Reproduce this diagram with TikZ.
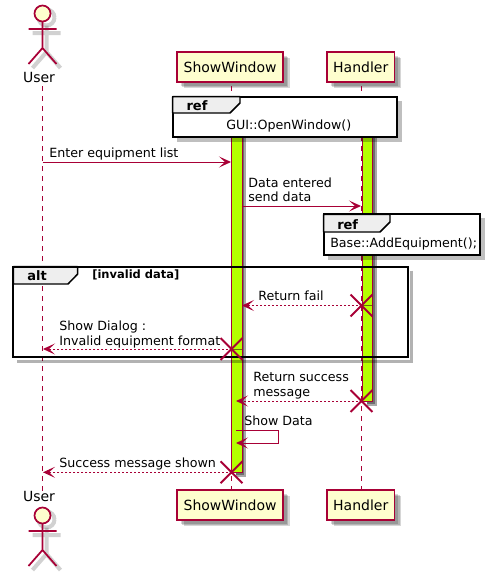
\documentclass[tikz,border=0pt]{standalone}
\usepackage{fontspec}
\setmainfont{DejaVu Sans}
\usetikzlibrary{arrows.meta,shapes.misc}
\definecolor{pcrim}{HTML}{A80036}
\definecolor{pyel}{HTML}{FEFECE}
\definecolor{pgreen}{HTML}{B4FF00}
\definecolor{pfr}{HTML}{EEEEEE}
\definecolor{shA}{HTML}{6E6E6E}
\definecolor{shB}{HTML}{A8A8A8}
\tikzset{
  x=0.75pt,y=-0.75pt,
  txt/.style={inner sep=0pt,font=\fontsize{9.5}{11.4}\selectfont,align=left,text=black},
  headbox/.style={draw=pcrim,fill=pyel,line width=1.2pt,inner sep=0pt,minimum height=22.5pt,
     font=\fontsize{10.5}{12}\selectfont,
     preaction={fill=black,opacity=.16,transform canvas={shift={(5pt,-5pt)}}},
     preaction={fill=black,opacity=.16,transform canvas={shift={(3.8pt,-3.8pt)}}},
     preaction={fill=black,opacity=.16,transform canvas={shift={(2.8pt,-2.8pt)}}}},
  lifeline/.style={draw=pcrim,line width=.75pt,dash pattern=on 3.75pt off 3.75pt},
  actbar/.style={fill=pgreen,inner sep=0pt,minimum width=7.5pt,anchor=north west},
  msg/.style={draw=pcrim,line width=.75pt,-{Stealth[length=9pt,width=8.25pt,inset=4.5pt]}},
  ret/.style={msg,dash pattern=on 1.5pt off 1.5pt},
  kill/.style={cross out,draw=pcrim,line width=1.4pt,inner sep=0pt,minimum size=15pt},
  frameline/.style={draw=black,line width=1.5pt},
  frameshadow/.style={draw=black,line width=2.4pt,opacity=.3},
  tabfill/.style={fill=pfr,draw=black,line width=1.1pt,line join=round},
  boldlbl/.style={inner sep=0pt,font=\fontsize{9.75}{11.4}\bfseries\selectfont},
  actorline/.style={draw=pcrim,line width=1.3pt},
  actorshadow/.style={draw=black,opacity=.18,line width=3pt,shift={(4,4)}},
}
\newcommand{\actorfig}[1]{%
  \begin{scope}[shift={(42.5,#1)}]
    \draw[actorshadow] (8,0) arc[start angle=0,end angle=360,radius=8];
    \draw[actorshadow] (0,8)--(0,34.5) (-14,15.5)--(14,15.5) (-14,50.5)--(0,34.5)--(14,50.5);
    \draw[actorline,fill=pyel] (0,0) circle[radius=8];
    \draw[actorline] (0,8)--(0,34.5) (-14,15.5)--(14,15.5) (-14,50.5)--(0,34.5)--(14,50.5);
  \end{scope}}
\begin{document}
\begin{tikzpicture}
\useasboundingbox (0,0) rectangle (489,576);
\coordinate (utop) at (42.5,86);
\coordinate (ubot) at (42.5,491);
\node[headbox,anchor=north west,minimum width=79.5pt] (swtop) at (176.3,51) {ShowWindow};
\node[headbox,anchor=north west,minimum width=50.5pt] (hdtop) at (326.3,51) {Handler};
\node[headbox,anchor=north west,minimum width=79.5pt] (swbot) at (176.3,489) {ShowWindow};
\node[headbox,anchor=north west,minimum width=50.5pt] (hdbot) at (326.3,489) {Handler};
\coordinate (swa) at (231.5,86);
\coordinate (swb) at (231.5,489);
\coordinate (hda) at (361.5,86);
\coordinate (hdb) at (361.5,489);
\draw[lifeline] (utop)--(ubot);
\draw[lifeline] (swa)--(swb);
\draw[lifeline] (hda)--(hdb);
\actorfig{13.5}
\actorfig{515.5}
\node[txt,anchor=base,font=\fontsize{10.5}{12}\selectfont] (userT) at (39,82.7) {User};
\node[txt,anchor=base,font=\fontsize{10.5}{12}\selectfont] (userB) at (39,501.7) {User};
\fill[shB] (235.5,137) rectangle (246,477);
\fill[shB] (366.5,137) rectangle (377,406);
\fill[shA] (235.5,137) rectangle (244,475);
\fill[shA] (366.5,137) rectangle (375,404);
\node[actbar,minimum height=251.25pt] (barS) at (231.7,137) {};
\node[actbar,minimum height=198pt] (barH) at (362.3,137) {};
\draw[draw=pcrim,line width=.75pt] (barS.north west)--(barS.south west)--(barS.south east)--(barS.north east);
\draw[draw=pcrim,line width=.75pt] (barH.north west)--(barH.south west)--(barH.south east)--(barH.north east);
\draw[draw=pcrim!40!black!60!pgreen,line width=.6pt] (361.5,305.5)--(372,305.5);
\draw[draw=pcrim!40!black!60!pgreen,line width=.6pt] (231.5,349)--(241.5,349);
\fill[black,opacity=.25] (176.5,100.7) rectangle (402,141.7);
\draw[fill=white,line width=1.5pt] (172.7,96.7) rectangle (397,136.7);
\draw[tabfill] (172.7,96.7)--(240,96.7)--(240,103)--(230,113)--(172.7,113)--cycle;
\node[boldlbl,anchor=base] (ref1) at (197,110) {ref};
\node[txt,anchor=base west] (gui) at (226,129) {GUI::OpenWindow()};
\coordinate (m1a) at (42.5,162); \coordinate (m1b) at (231,162);
\draw[msg] (m1a)--(m1b);
\node[txt,anchor=base west] (t1) at (49,157.5) {Enter equipment list};
\coordinate (m2a) at (241.5,206); \coordinate (m2b) at (361,206);
\draw[msg] (m2a)--(m2b);
\node[txt,anchor=base west] (t2) at (248,187) {Data entered};
\node[txt,anchor=base west] (t2b) at (248,201.5) {send data};
\fill[black,opacity=.25] (327.7,218.3) rectangle (484.7,260);
\draw[fill=white,line width=1.5pt] (323.7,214.3) rectangle (479.7,255);
\draw[tabfill] (323.7,214.3)--(390,214.3)--(390,222)--(380,232)--(323.7,232)--cycle;
\node[boldlbl,anchor=base] (ref2) at (347.7,229.3) {ref};
\node[txt,anchor=base west] (base) at (330,247.7) {Base::AddEquipment();};
\draw[frameshadow] (411.5,270.7)--(411.5,361.3)--(17,361.3);
\draw[tabfill] (13.3,266.7)--(77.7,266.7)--(77.7,274)--(68,284)--(13.3,284)--cycle;
\draw[frameline] (13.3,266.7) rectangle (407.5,357.3);
\node[boldlbl,anchor=base] (alt) at (37,280) {alt};
\node[boldlbl,anchor=base west,font=\fontsize{8.6}{10}\bfseries\selectfont] (cond) at (92,278.7) {[invalid data]};
\node[kill] (x1) at (361.5,305.5) {};
\coordinate (m3b) at (242,305.5);
\draw[ret] (x1.center)--(m3b);
\node[txt,anchor=base west] (t3) at (258,300) {Return fail};
\node[kill] (x2) at (231.5,349) {};
\coordinate (m4b) at (43,349);
\draw[ret] (x2.center)--(m4b);
\node[txt,anchor=base west] (t4) at (59,330) {Show Dialog :};
\node[txt,anchor=base west] (t4b) at (59,345) {Invalid equipment format};
\node[kill] (x3) at (361.5,401) {};
\coordinate (m5b) at (236,401);
\draw[ret] (x3.center)--(m5b);
\node[txt,anchor=base west] (t5) at (253,381) {Return success};
\node[txt,anchor=base west] (t5b) at (253,396) {message};
\coordinate (l1) at (236,430); \coordinate (l2) at (278.5,430);
\coordinate (l3) at (278.5,443); \coordinate (l4) at (236,443);
\draw[msg] (l1)--(l2)--(l3)--(l4);
\node[txt,anchor=base west] (t6) at (244,425) {Show Data};
\node[kill] (x4) at (231.5,472.3) {};
\coordinate (m7b) at (43,472.3);
\draw[ret] (x4.center)--(m7b);
\node[txt,anchor=base west] (t7) at (59,467) {Success message shown};
\end{tikzpicture}
\end{document}
